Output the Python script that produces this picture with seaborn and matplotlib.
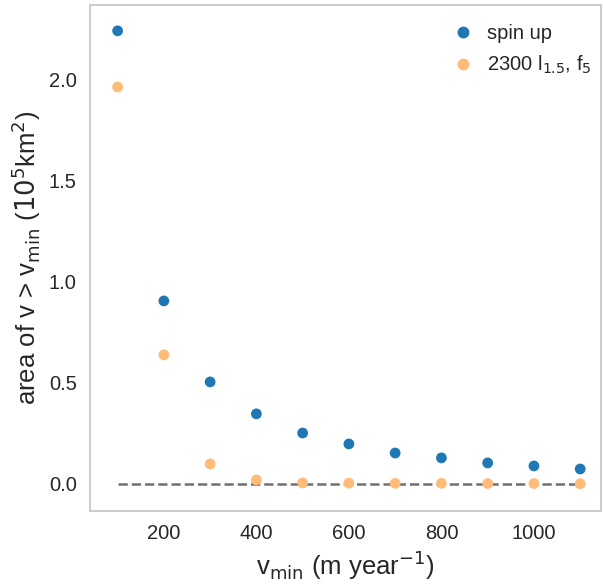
import numpy as np
import pandas as pd
import matplotlib
matplotlib.use("Agg")
import matplotlib.pyplot as plt
import seaborn as sns

v_min = [100, 200, 300, 400, 500, 600, 700, 800, 900, 1000, 1100]
spin_up = [2.243, 0.906, 0.505, 0.347, 0.252, 0.198, 0.153, 0.129, 0.104, 0.089, 0.074]
run_2300 = [1.965, 0.639, 0.099, 0.020, 0.005, 0.004, 0.003, 0.003, 0.002, 0.002, 0.001]
series_names = ["spin up", r"2300 l$_{1.5}$, f$_5$"]
series_colors = ["#1f77b4", "#ffbb78"]

sns.set_theme(style="whitegrid", context="notebook")
plt.rcParams["font.family"] = ["Liberation Sans", "DejaVu Sans"]
plt.rcParams["mathtext.fontset"] = "dejavusans"
plt.rcParams["mathtext.default"] = "rm"
plt.rcParams["xtick.labelsize"] = 14.5
plt.rcParams["ytick.labelsize"] = 14.5
plt.rcParams["axes.labelsize"] = 18.5
plt.rcParams["legend.fontsize"] = 14.5

df = pd.DataFrame({
    "v": v_min * 2,
    "area": spin_up + run_2300,
    "series": [series_names[0]] * len(v_min) + [series_names[1]] * len(v_min),
})

fig = plt.figure(figsize=(6.03, 5.85), dpi=100)
ax = fig.add_axes([0.149, 0.1265, 0.8477, 0.865])
sns.scatterplot(data=df, x="v", y="area", hue="series", palette=series_colors,
                s=60, linewidth=0, ax=ax)
ax.plot([v_min[0], v_min[-1]], [0, 0], linestyle="--", color="#707070", linewidth=1.8, zorder=0)
ax.grid(False)
for sp in ax.spines.values():
    sp.set_color("#cccccc")
    sp.set_linewidth(1.4)
ax.set_xlim(40, 1145)
ax.set_ylim(-0.134, 2.371)
ax.set_xticks([200, 400, 600, 800, 1000])
ax.set_yticks([0.0, 0.5, 1.0, 1.5, 2.0])
ax.set_xlabel(r"v$_{min}$ (m year$^{-1}$)")
ax.set_ylabel(r"area of v > v$_{min}$ ($10^5$km$^2$)")
leg = ax.legend(frameon=False, loc="upper right", bbox_to_anchor=(1.009, 0.991),
                title=None, markerscale=1.1,
                handletextpad=0.2, labelspacing=0.55, borderaxespad=0.3)
fig.savefig("out.png", dpi=100)
